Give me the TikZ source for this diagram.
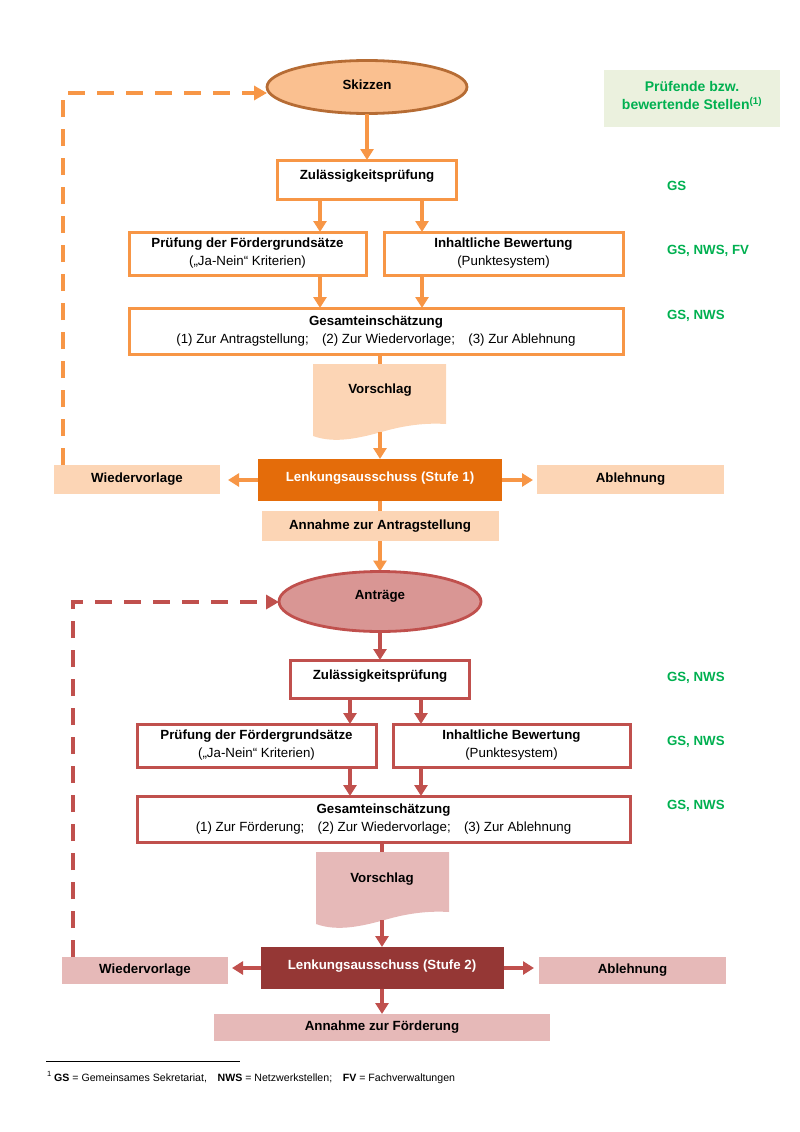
\documentclass[tikz,border=0pt]{standalone}
\usepackage{fontspec}
\setmainfont{Liberation Sans}
\usetikzlibrary{arrows.meta,backgrounds,shapes.geometric}
\definecolor{orl}{RGB}{247,150,70}
\definecolor{skfill}{RGB}{250,192,144}
\definecolor{skdraw}{RGB}{182,108,52}
\definecolor{peach}{RGB}{252,213,181}
\definecolor{lkone}{RGB}{228,108,10}
\definecolor{redl}{RGB}{192,80,77}
\definecolor{anfill}{RGB}{217,150,148}
\definecolor{pinkf}{RGB}{230,185,184}
\definecolor{lktwo}{RGB}{149,55,53}
\definecolor{gtext}{RGB}{0,176,80}
\definecolor{gbox}{RGB}{235,241,222}
\newcommand\fsmain{\fontsize{13.3}{18}\selectfont}
\begin{document}
\begin{tikzpicture}[x=1pt,y=-1pt,
  every node/.style={inner sep=0pt, outer sep=0pt, font=\fsmain},
  obox/.style={draw=orl, line width=3pt, fill=white, align=center},
  rbox/.style={draw=redl, line width=3pt, fill=white, align=center},
  upshift/.style={text height=9.5pt, text depth=#1},
  softo/.style={fill=peach, font=\fsmain\bfseries},
  softr/.style={fill=pinkf, font=\fsmain\bfseries},
  oarr/.style={draw=orl, line width=3.6pt, -{Triangle[length=11pt,width=13pt]}},
  rarr/.style={draw=redl, line width=3.6pt, -{Triangle[length=11pt,width=13pt]}},
  oline/.style={draw=orl, line width=3.6pt},
  rline/.style={draw=redl, line width=3.6pt},
  odash/.style={draw=orl, line width=4.5pt, dash pattern=on 17pt off 12pt, -{Triangle[length=13pt,width=14pt]}},
  rdash/.style={draw=redl, line width=4.5pt, dash pattern=on 17pt off 12pt, -{Triangle[length=13pt,width=14pt]}},
  glabel/.style={anchor=west, text=gtext, font=\fsmain\bfseries, text height=9.5pt, text depth=0pt}
]
\useasboundingbox (0,0) rectangle (800,1132);

% ---------- Stage 1 ----------
\node[ellipse, draw=skdraw, line width=2.8pt, fill=skfill, minimum width=200, minimum height=53, upshift=4pt, font=\fsmain\bfseries] (sk) at (367,87) {Skizzen};
\node[obox, minimum width=179, minimum height=39, upshift=9pt, font=\fsmain\bfseries] (zul1) at (367,179.5) {Zulässigkeitsprüfung};
\node[obox, minimum width=237, minimum height=43] (pr1) at (247.5,253.5) {\textbf{Prüfung der Fördergrundsätze}\\(„Ja-Nein“ Kriterien)};
\node[obox, minimum width=239, minimum height=43] (in1) at (503.5,253.5) {\textbf{Inhaltliche Bewertung}\\(Punktesystem)};
\node[obox, minimum width=494, minimum height=46] (ge1) at (376,331) {\textbf{Gesamteinschätzung}\\(1) Zur Antragstellung;\quad (2) Zur Wiedervorlage;\quad (3) Zur Ablehnung};

\coordinate (c1) at (320,0);
\coordinate (c2) at (422,0);
\draw[oarr] (zul1.south -| c1) -- (pr1.north -| c1);
\draw[oarr] (zul1.south -| c2) -- (in1.north -| c2);
\draw[oarr] (pr1.south -| c1) -- (ge1.north -| c1);
\draw[oarr] (in1.south -| c2) -- (ge1.north -| c2);
\draw[oarr] (sk.south) -- (zul1.north);

% Vorschlag 1
\fill[peach] (313,364) -- (446,364) -- (446,424) .. controls (430,423) and (410,424) .. (385,431) .. controls (360,438) and (335,444) .. (313,436) -- cycle;
\node[font=\fsmain\bfseries] (v1) at (380,390) {Vorschlag};
\coordinate (v1t) at (380,364);
\coordinate (v1b) at (380,432);
\draw[oline] (ge1.south -| v1t) -- (v1t);

\node[fill=lkone, text=white, minimum width=244, minimum height=42, upshift=7pt, font=\fsmain\bfseries] (lk1) at (380,480) {Lenkungsausschuss (Stufe 1)};
\node[softo, minimum width=166, minimum height=29] (wv1) at (137,479.5) {Wiedervorlage};
\node[softo, minimum width=187, minimum height=29] (ab1) at (630.5,479.5) {Ablehnung};
\node[softo, minimum width=237, minimum height=30] (an1) at (380,526) {Annahme zur Antragstellung};
\draw[oarr] (v1b) -- (lk1.north);
\draw[oarr, shorten >=8pt] (lk1.west) -- (lk1.west -| wv1.east);
\draw[oarr, shorten >=4pt] (lk1.east) -- (lk1.east -| ab1.west);

% ---------- Stage 2 ----------
\node[ellipse, draw=redl, line width=2.8pt, fill=anfill, minimum width=202, minimum height=60, upshift=14pt, font=\fsmain\bfseries] (at) at (380,601.5) {Anträge};
\begin{scope}[on background layer]
\draw[oarr] (lk1.south) -- (at.north);
\end{scope}

\coordinate (d1) at (63,93);
\draw[odash] (wv1.north -| d1) -- (d1) -- (d1 -| sk.west);

\node[rbox, minimum width=179, minimum height=38, upshift=9pt, font=\fsmain\bfseries] (zul2) at (380,679) {Zulässigkeitsprüfung};
\node[rbox, minimum width=239, minimum height=43] (pr2) at (256.5,745.5) {\textbf{Prüfung der Fördergrundsätze}\\(„Ja-Nein“ Kriterien)};
\node[rbox, minimum width=237, minimum height=43] (in2) at (511.5,745.5) {\textbf{Inhaltliche Bewertung}\\(Punktesystem)};
\node[rbox, minimum width=493, minimum height=46] (ge2) at (383.5,819) {\textbf{Gesamteinschätzung}\\(1) Zur Förderung;\quad (2) Zur Wiedervorlage;\quad (3) Zur Ablehnung};

\coordinate (c3) at (350,0);
\coordinate (c4) at (421,0);
\draw[rarr] (at.south) -- (zul2.north);
\draw[rarr] (zul2.south -| c3) -- (pr2.north -| c3);
\draw[rarr] (zul2.south -| c4) -- (in2.north -| c4);
\draw[rarr] (pr2.south -| c3) -- (ge2.north -| c3);
\draw[rarr] (in2.south -| c4) -- (ge2.north -| c4);

% Vorschlag 2
\begin{scope}[shift={(3,488)}]
\fill[pinkf] (313,364) -- (446,364) -- (446,424) .. controls (430,423) and (410,424) .. (385,431) .. controls (360,438) and (335,444) .. (313,436) -- cycle;
\end{scope}
\node[font=\fsmain\bfseries] (v2) at (382,879) {Vorschlag};
\coordinate (v2t) at (382,852);
\coordinate (v2b) at (382,920);
\draw[rline] (ge2.south -| v2t) -- (v2t);

\node[fill=lktwo, text=white, minimum width=243, minimum height=42, upshift=7pt, font=\fsmain\bfseries] (lk2) at (382,968) {Lenkungsausschuss (Stufe 2)};
\node[softr, minimum width=166, minimum height=27] (wv2) at (145,970.5) {Wiedervorlage};
\node[softr, minimum width=187, minimum height=27] (ab2) at (632.5,970.5) {Ablehnung};
\node[softr, minimum width=336, minimum height=27] (af) at (382,1027.5) {Annahme zur Förderung};
\draw[rarr] (v2b) -- (lk2.north);
\draw[rarr, shorten >=4pt] (lk2.west) -- (lk2.west -| wv2.east);
\draw[rarr, shorten >=5pt] (lk2.east) -- (lk2.east -| ab2.west);
\draw[rarr] (lk2.south) -- (af.north);

\coordinate (d2) at (73,602);
\draw[rdash] (wv2.north -| d2) -- (d2) -- (d2 -| at.west);

% ---------- right column ----------
\node[fill=gbox, minimum width=176, minimum height=57, align=center, text=gtext, font=\fontsize{14}{18}\selectfont\bfseries, text depth=6pt] (pb) at (692,98.5) {Prüfende bzw.\\bewertende Stellen\textsuperscript{(1)}};
\node[glabel] (g1) at (667,186) {GS};
\node[glabel] (g2) at (667,250) {GS, NWS, FV};
\node[glabel] (g3) at (667,315) {GS, NWS};
\node[glabel] (g4) at (667,677) {GS, NWS};
\node[glabel] (g5) at (667,741) {GS, NWS};
\node[glabel] (g6) at (667,805) {GS, NWS};

% ---------- footnote ----------
\draw[line width=1pt] (46,1061) -- (240,1061);
\node[anchor=base west, font=\fontsize{10.6}{12}\selectfont] (fn) at (47,1081) {\raisebox{5pt}{\fontsize{7.5}{8}\selectfont 1}\hspace{3pt}\textbf{GS} = Gemeinsames Sekretariat,\quad \textbf{NWS} = Netzwerkstellen;\quad \textbf{FV} = Fachverwaltungen};
\end{tikzpicture}
\end{document}
